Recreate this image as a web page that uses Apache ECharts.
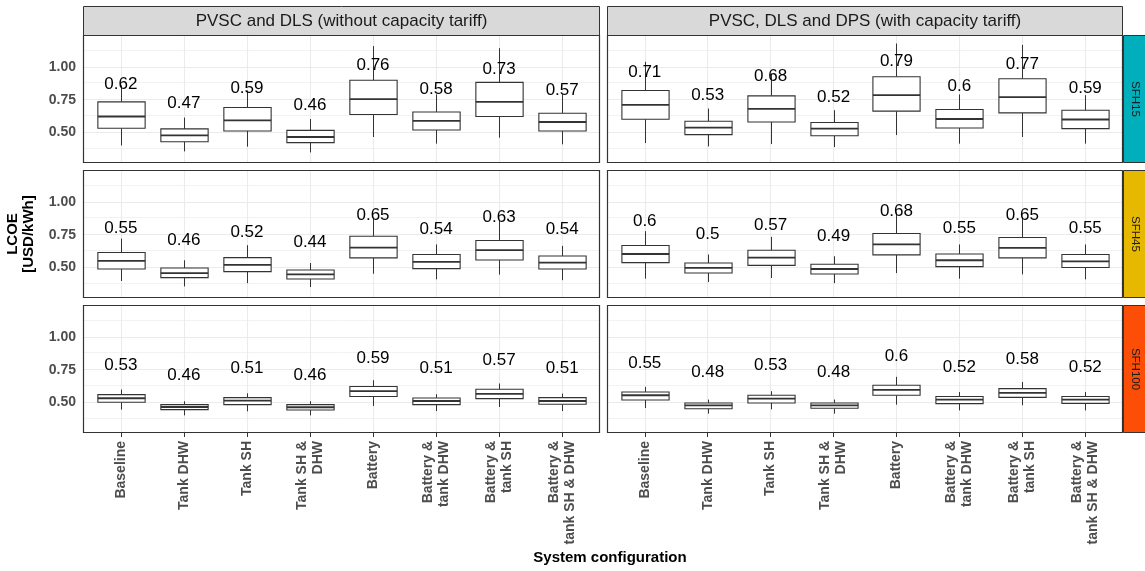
<!DOCTYPE html>
<html><head><meta charset="utf-8">
<script src="https://cdn.jsdelivr.net/npm/echarts@6/dist/echarts.min.js"></script>
<style>html,body{margin:0;padding:0;background:#fff}#c{width:1145px;height:571px}</style>
</head><body><div id="c"></div>
<script>
// ---------- data ----------
const categories = ['Baseline', 'Tank DHW', 'Tank SH', 'Tank SH &\nDHW', 'Battery',
  'Battery &\ntank DHW', 'Battery &\ntank SH', 'Battery &\ntank SH & DHW'];
const columnTitles = ['PVSC and DLS (without capacity tariff)', 'PVSC, DLS and DPS (with capacity tariff)'];
const rowTitles = ['SFH15', 'SFH45', 'SFH100'];
const rowColors = ['#00AFBB', '#E7B800', '#FC4E07'];
const yTickValues = [0.5, 0.75, 1.0];
const yMinorValues = [0.375, 0.625, 0.875, 1.125];
const yRange = [0.265, 1.245];
const labelOffset = 0.25; // mean labels are drawn this far above the mean

// box statistics: [lower whisker, Q1, median, Q3, upper whisker]
const sfh15NoTariff = [
  [0.400, 0.531, 0.621, 0.733, 0.86], [0.354, 0.428, 0.477, 0.526, 0.613],
  [0.390, 0.510, 0.592, 0.690, 0.82], [0.346, 0.421, 0.464, 0.515, 0.602],
  [0.464, 0.636, 0.754, 0.898, 1.16], [0.413, 0.518, 0.587, 0.656, 0.79],
  [0.459, 0.621, 0.733, 0.882, 1.144], [0.408, 0.510, 0.579, 0.646, 0.79]];
const sfh15Tariff = [
  [0.418, 0.600, 0.710, 0.820, 1.04], [0.392, 0.482, 0.536, 0.585, 0.682],
  [0.410, 0.579, 0.679, 0.779, 0.95], [0.387, 0.474, 0.528, 0.575, 0.669],
  [0.479, 0.662, 0.785, 0.925, 1.18], [0.413, 0.533, 0.602, 0.675, 0.79],
  [0.464, 0.649, 0.769, 0.910, 1.17], [0.413, 0.528, 0.598, 0.669, 0.785]];
const sfh45NoTariff = [
  [0.395, 0.487, 0.549, 0.613, 0.72], [0.354, 0.421, 0.456, 0.495, 0.554],
  [0.379, 0.467, 0.518, 0.574, 0.669], [0.349, 0.410, 0.446, 0.479, 0.533],
  [0.451, 0.572, 0.651, 0.738, 0.88], [0.408, 0.490, 0.541, 0.598, 0.675],
  [0.444, 0.556, 0.631, 0.705, 0.86], [0.402, 0.487, 0.536, 0.587, 0.664]];
const sfh45Tariff = [
  [0.413, 0.536, 0.602, 0.667, 0.777], [0.387, 0.456, 0.495, 0.533, 0.598],
  [0.418, 0.515, 0.574, 0.631, 0.733], [0.379, 0.449, 0.487, 0.523, 0.585],
  [0.456, 0.595, 0.675, 0.759, 0.92], [0.413, 0.505, 0.554, 0.602, 0.675],
  [0.446, 0.572, 0.649, 0.728, 0.88], [0.408, 0.498, 0.546, 0.598, 0.675]];
const sfh100NoTariff = [
  [0.444, 0.500, 0.531, 0.559, 0.598], [0.400, 0.444, 0.464, 0.482, 0.508],
  [0.431, 0.482, 0.513, 0.536, 0.569], [0.400, 0.441, 0.462, 0.482, 0.508],
  [0.472, 0.544, 0.585, 0.621, 0.669], [0.433, 0.482, 0.510, 0.533, 0.562],
  [0.464, 0.528, 0.564, 0.600, 0.644], [0.433, 0.485, 0.510, 0.536, 0.567]];
const sfh100Tariff = [
  [0.456, 0.518, 0.554, 0.579, 0.618], [0.413, 0.451, 0.477, 0.495, 0.521],
  [0.446, 0.495, 0.528, 0.554, 0.585], [0.413, 0.454, 0.477, 0.495, 0.521],
  [0.482, 0.554, 0.595, 0.631, 0.695], [0.438, 0.490, 0.521, 0.544, 0.579],
  [0.477, 0.538, 0.572, 0.605, 0.656], [0.438, 0.492, 0.521, 0.544, 0.579]];

// mean labels
const sfh15NoTariffMean = [0.62, 0.47, 0.59, 0.46, 0.76, 0.58, 0.73, 0.57];
const sfh15TariffMean = [0.71, 0.53, 0.68, 0.52, 0.79, 0.6, 0.77, 0.59];
const sfh45NoTariffMean = [0.55, 0.46, 0.52, 0.44, 0.65, 0.54, 0.63, 0.54];
const sfh45TariffMean = [0.6, 0.5, 0.57, 0.49, 0.68, 0.55, 0.65, 0.55];
const sfh100NoTariffMean = [0.53, 0.46, 0.51, 0.46, 0.59, 0.51, 0.57, 0.51];
const sfh100TariffMean = [0.55, 0.48, 0.53, 0.48, 0.6, 0.52, 0.58, 0.52];

// ---------- layout ----------
const FONT = 'Liberation Sans, Arial, Helvetica, sans-serif';
const PANEL_LEFT = [83, 607];
const PANEL_WIDTH = [517, 516];
const PANEL_TOP = [35, 170, 305];
const PANEL_H = 128;
const STRIP_TOP_Y = 6;
const STRIP_RIGHT_X = 1123;
const STRIP_RIGHT_W = 22;

const panels = [
  {row: 0, col: 0, stats: sfh15NoTariff, means: sfh15NoTariffMean},
  {row: 0, col: 1, stats: sfh15Tariff, means: sfh15TariffMean},
  {row: 1, col: 0, stats: sfh45NoTariff, means: sfh45NoTariffMean},
  {row: 1, col: 1, stats: sfh45Tariff, means: sfh45TariffMean},
  {row: 2, col: 0, stats: sfh100NoTariff, means: sfh100NoTariffMean},
  {row: 2, col: 1, stats: sfh100Tariff, means: sfh100TariffMean}
];
const catIdx = categories.map((c, i) => i);

const grids = [], xAxes = [], yAxes = [], series = [];
panels.forEach((p, i) => {
  grids.push({left: PANEL_LEFT[p.col], top: PANEL_TOP[p.row], width: PANEL_WIDTH[p.col],
    height: PANEL_H, outerBoundsMode: 'none', containLabel: false, show: false});
  const bottom = p.row === 2;
  xAxes.push({
    type: 'value', gridIndex: i, min: -0.6, max: categories.length - 0.4,
    axisLine: {show: false}, splitLine: {show: false},
    axisTick: {show: bottom, customValues: catIdx, length: 4, lineStyle: {color: '#333', width: 1}},
    axisLabel: {show: bottom, customValues: catIdx, rotate: 90, margin: 8,
      formatter: v => categories[Math.round(v)], fontFamily: FONT, fontWeight: 'bold',
      fontSize: 14, lineHeight: 16, color: '#4D4D4D'}
  });
  const left = p.col === 0;
  yAxes.push({
    type: 'value', gridIndex: i, min: yRange[0], max: yRange[1],
    axisLine: {show: false}, splitLine: {show: false},
    axisTick: {show: left, customValues: yTickValues, length: 4, lineStyle: {color: '#333', width: 1}},
    axisLabel: {show: left, customValues: yTickValues, margin: 7, formatter: v => v.toFixed(2),
      fontFamily: FONT, fontWeight: 'bold', fontSize: 14, color: '#4D4D4D'}
  });
  const gridLines = []
    .concat(yMinorValues.map(v => ({yAxis: v, lineStyle: {width: 0.8, color: '#EFEFEF'}})))
    .concat(yTickValues.map(v => ({yAxis: v})))
    .concat(catIdx.map(v => ({xAxis: v})));
  series.push({
    type: 'custom', xAxisIndex: i, yAxisIndex: i, z: 2,
    data: p.stats.map((s, k) => [k].concat(s)),
    encode: {x: 0, y: [1, 2, 3, 4, 5]},
    markLine: {silent: true, symbol: 'none', z: 1, animation: false,
      label: {show: false}, emphasis: {disabled: true},
      lineStyle: {color: '#EBEBEB', width: 1.1, type: 'solid'}, data: gridLines},
    renderItem: (params, api) => {
      const x = api.value(0);
      const lo = api.coord([x, api.value(1)]);
      const q1 = api.coord([x, api.value(2)]);
      const md = api.coord([x, api.value(3)]);
      const q3 = api.coord([x, api.value(4)]);
      const hi = api.coord([x, api.value(5)]);
      const bw = api.size([1, 0])[0] * 0.75;
      const cx = Math.round(lo[0]) + 0.5;
      const stroke = '#333333';
      return {type: 'group', children: [
        {type: 'line', shape: {x1: cx, y1: lo[1], x2: cx, y2: q1[1]}, style: {stroke: stroke, lineWidth: 1}},
        {type: 'line', shape: {x1: cx, y1: q3[1], x2: cx, y2: hi[1]}, style: {stroke: stroke, lineWidth: 1}},
        {type: 'rect', shape: {x: cx - bw / 2, y: q3[1], width: bw, height: q1[1] - q3[1]},
          style: {fill: '#fff', stroke: stroke, lineWidth: 1.1}},
        {type: 'line', shape: {x1: cx - bw / 2, y1: md[1], x2: cx + bw / 2, y2: md[1]},
          style: {stroke: stroke, lineWidth: 1.8}}
      ]};
    }
  });
  series.push({
    type: 'custom', xAxisIndex: i, yAxisIndex: i, z: 3,
    data: p.means.map((m, k) => [k, m]),
    encode: {x: 0, y: 1},
    renderItem: (params, api) => {
      const m = api.value(1);
      const pt = api.coord([api.value(0), m + labelOffset]);
      return {type: 'text', x: pt[0], y: pt[1],
        style: {text: String(m), align: 'center', verticalAlign: 'middle',
          fontFamily: FONT, fontSize: 17, fill: '#000'}};
    }
  });
});

// ---------- strips, borders and titles ----------
const graphics = [];
columnTitles.forEach((t, c) => {
  graphics.push({type: 'rect', z: 50, shape: {x: PANEL_LEFT[c] + 0.5, y: STRIP_TOP_Y + 0.5,
    width: PANEL_WIDTH[c] - 1, height: PANEL_TOP[0] - STRIP_TOP_Y},
    style: {fill: '#D9D9D9', stroke: '#333333', lineWidth: 1}});
  graphics.push({type: 'text', z: 51, x: PANEL_LEFT[c] + PANEL_WIDTH[c] / 2,
    y: (STRIP_TOP_Y + PANEL_TOP[0]) / 2 + 0.5,
    style: {text: t, align: 'center', verticalAlign: 'middle', fontFamily: FONT,
      fontSize: 17, fill: '#1A1A1A'}});
});
rowTitles.forEach((t, r) => {
  graphics.push({type: 'rect', z: 50, shape: {x: STRIP_RIGHT_X + 0.5, y: PANEL_TOP[r] + 0.5,
    width: STRIP_RIGHT_W, height: PANEL_H - 1},
    style: {fill: rowColors[r], stroke: '#333333', lineWidth: 1}});
  graphics.push({type: 'text', z: 51, x: STRIP_RIGHT_X + STRIP_RIGHT_W / 2 + 1.5,
    y: PANEL_TOP[r] + PANEL_H / 2, rotation: -Math.PI / 2,
    style: {text: t, align: 'center', verticalAlign: 'middle', fontFamily: FONT,
      fontSize: 11.5, fill: '#1A1A1A'}});
});
panels.forEach(p => {
  graphics.push({type: 'rect', z: 60, shape: {x: PANEL_LEFT[p.col] + 0.5, y: PANEL_TOP[p.row] + 0.5,
    width: PANEL_WIDTH[p.col] - 1, height: PANEL_H - 1},
    style: {fill: 'none', stroke: '#333333', lineWidth: 1.2}});
});
graphics.push({type: 'text', z: 51, x: 21, y: 234, rotation: Math.PI / 2,
  style: {text: 'LCOE\n[USD/kWh]', align: 'center', verticalAlign: 'middle', fontFamily: FONT,
    fontWeight: 'bold', fontSize: 15, lineHeight: 16, fill: '#000'}});
graphics.push({type: 'text', z: 51, x: 610, y: 558,
  style: {text: 'System configuration', align: 'center', verticalAlign: 'middle', fontFamily: FONT,
    fontWeight: 'bold', fontSize: 15, fill: '#000'}});

const chart = echarts.init(document.getElementById('c'), null, {renderer: 'canvas'});
chart.setOption({
  animation: false,
  backgroundColor: '#ffffff',
  grid: grids, xAxis: xAxes, yAxis: yAxes, series: series,
  graphic: {elements: graphics}
});
</script></body></html>
